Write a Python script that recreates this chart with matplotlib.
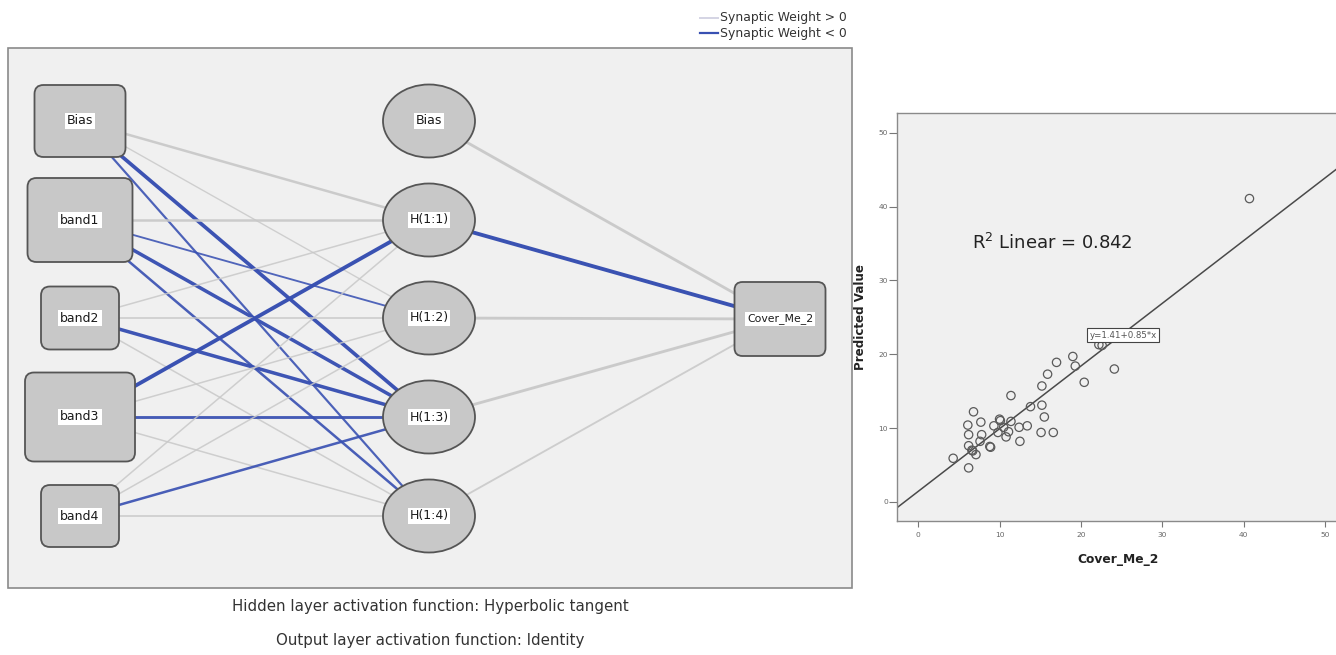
import matplotlib
matplotlib.use("Agg")
import matplotlib.pyplot as plt
from matplotlib.patches import FancyBboxPatch, Ellipse, Rectangle
import numpy as np

plt.rcParams['font.family'] = ['DejaVu Sans']

# ---------------- network data ----------------
input_nodes = ["Bias", "band1", "band2", "band3", "band4"]
hidden_nodes = ["Bias", "H(1:1)", "H(1:2)", "H(1:3)", "H(1:4)"]
output_node = "Cover_Me_2"

# synaptic weights: rows = input nodes, columns = H(1:1)..H(1:4)
w_input_hidden = [
    [0.55, 0.20, -0.90, -0.45],
    [0.55, -0.35, -0.85, -0.55],
    [0.25, 0.30, -0.85, 0.25],
    [-0.95, 0.25, -0.65, 0.25],
    [0.25, 0.25, -0.55, 0.30],
]
# hidden (Bias, H(1:1)..H(1:4)) -> output
w_hidden_output = [0.65, -0.95, 0.65, 0.65, 0.35]

hidden_activation = "Hyperbolic tangent"
output_activation = "Identity"

# ---------------- scatter data ----------------
cover_observed = [40.7, 24.1, 22.2, 22.6, 19.0, 19.3, 17.0, 15.9, 15.2, 20.4,
                  11.4, 13.8, 15.2, 15.5, 13.4, 12.4, 12.5, 15.1, 16.6, 10.0,
                  10.1, 11.4, 9.3, 10.5, 9.8, 11.1, 10.8, 7.7, 6.8, 6.1,
                  6.2, 7.8, 7.6, 6.2, 6.6, 6.7, 7.1, 8.8, 8.9, 4.3, 6.2]
predicted_value = [41.1, 18.0, 21.3, 21.2, 19.7, 18.4, 18.9, 17.3, 15.7, 16.2,
                   14.4, 12.9, 13.1, 11.5, 10.3, 10.1, 8.2, 9.4, 9.4, 11.2,
                   11.0, 10.9, 10.3, 10.1, 9.4, 9.5, 8.8, 10.8, 12.2, 10.4,
                   9.1, 9.1, 8.2, 7.6, 7.0, 6.9, 6.4, 7.5, 7.4, 5.9, 4.6]
fit_intercept = 1.41
fit_slope = 0.85
r_squared = 0.842
x_ticks = [0, 10, 20, 30, 40, 50]
y_ticks = [0, 10, 20, 30, 40, 50]

# ---------------- styling ----------------
POS_COLOR = "#c8c8c8"
NEG_COLOR = "#3850b2"
NODE_FILL = "#c8c8c8"
NODE_EDGE = "#555555"
PANEL_BG = "#f0f0f0"

W, H = 1336, 655
fig = plt.figure(figsize=(W / 100, H / 100), dpi=100, facecolor="white")

# canvas in pixel units for the network diagram
canvas = fig.add_axes([0, 0, 1, 1])
canvas.set_xlim(0, W)
canvas.set_ylim(H, 0)
canvas.axis("off")

canvas.add_patch(Rectangle((8, 48), 844, 540, facecolor=PANEL_BG,
                           edgecolor="#8a8a8a", lw=1.2, zorder=0))

# node layout: centre x, centre y, width, height
in_x = 80
in_y = [121, 220, 318, 417, 516]
in_w = [91, 105, 78, 110, 78]
in_h = [72, 84, 63, 89, 62]
hid_x = 429
hid_y = [121, 220, 318, 417, 516]
hid_w, hid_h = 92, 73
out_xy = (780, 319)
out_w, out_h = 91, 74


def edge(p, q, w):
    color = POS_COLOR if w > 0 else NEG_COLOR
    canvas.plot([p[0], q[0]], [p[1], q[1]], color=color,
                lw=0.5 + 2.4 * abs(w), solid_capstyle="butt", zorder=1,
                alpha=0.8 + 0.2 * abs(w))


for i in range(len(input_nodes)):
    for j in range(4):
        edge((in_x, in_y[i]), (hid_x, hid_y[j + 1]), w_input_hidden[i][j])
for j in range(len(hidden_nodes)):
    edge((hid_x, hid_y[j]), out_xy, w_hidden_output[j])


def label(x, y, text, size=9):
    canvas.text(x, y, text, ha="center", va="center", fontsize=size,
                color="#1a1a1a", zorder=5,
                bbox=dict(boxstyle="square,pad=0.15", fc="white", ec="none"))


for i, name in enumerate(input_nodes):
    canvas.add_patch(FancyBboxPatch(
        (in_x - in_w[i] / 2, in_y[i] - in_h[i] / 2), in_w[i], in_h[i],
        boxstyle="round,pad=0,rounding_size=9", fc=NODE_FILL, ec=NODE_EDGE,
        lw=1.3, zorder=3))
    label(in_x, in_y[i], name)

for j, name in enumerate(hidden_nodes):
    canvas.add_patch(Ellipse((hid_x, hid_y[j]), hid_w, hid_h, fc=NODE_FILL,
                             ec=NODE_EDGE, lw=1.3, zorder=3))
    label(hid_x, hid_y[j], name)

canvas.add_patch(FancyBboxPatch(
    (out_xy[0] - out_w / 2, out_xy[1] - out_h / 2), out_w, out_h,
    boxstyle="round,pad=0,rounding_size=8", fc=NODE_FILL, ec=NODE_EDGE,
    lw=1.3, zorder=3))
label(out_xy[0], out_xy[1], output_node, size=7.8)

# legend
canvas.plot([700, 718], [18, 18], color="#d4d4e4", lw=1.4)
canvas.plot([700, 718], [33, 33], color=NEG_COLOR, lw=1.6)
canvas.text(720, 18, "Synaptic Weight > 0", fontsize=8.9, va="center",
            color="#333333")
canvas.text(720, 33, "Synaptic Weight < 0", fontsize=8.9, va="center",
            color="#333333")

canvas.text(430, 607, "Hidden layer activation function: " + hidden_activation,
            ha="center", va="center", fontsize=10.8, color="#333333")
canvas.text(430, 641, "Output layer activation function: " + output_activation,
            ha="center", va="center", fontsize=10.8, color="#333333")

# ---------------- scatter of observed vs predicted ----------------
ax = fig.add_axes([897 / W, 1 - 521 / H, 442 / W, 408 / H])
ax.set_facecolor(PANEL_BG)
ax.set_xlim(-2.6, 51.7)
ax.set_ylim(-2.6, 52.7)
for s in ax.spines.values():
    s.set_color("#8a8a8a")
    s.set_linewidth(1.0)

ax.scatter(cover_observed, predicted_value, s=36, facecolors="none",
           edgecolors="#5a5a5a", linewidths=0.9, zorder=3)
xl = np.array(ax.get_xlim())
ax.plot(xl, fit_intercept + fit_slope * xl, color="#4a4a4a", lw=1.1, zorder=2)

ax.set_xticks(x_ticks)
ax.set_yticks(y_ticks)
ax.tick_params(axis="x", length=4, width=0.8, color="#777777", labelsize=5.4,
               labelcolor="#666666", pad=4)
ax.tick_params(axis="y", length=6, width=0.8, color="#777777", labelsize=5.4,
               labelcolor="#666666", pad=0.5)
ax.set_xlabel("Cover_Me_2", fontsize=8.8, fontweight="bold", color="#222222",
              labelpad=11)
ax.set_ylabel("Predicted Value", fontsize=8.6, fontweight="bold",
              color="#222222", labelpad=8)

ax.text(6.6, 35.1, r"R$^2$ Linear = " + f"{r_squared:.3f}", fontsize=13,
        va="center", ha="left", color="#222222")
ax.text(25.2, 22.6, f"y={fit_intercept:.2f}+{fit_slope:.2f}*x", fontsize=6.2,
        ha="center", va="center", color="#555555", zorder=5,
        bbox=dict(boxstyle="square,pad=0.3", fc="white", ec="#444444", lw=0.8))

fig.savefig("out.png", dpi=100, facecolor="white")
